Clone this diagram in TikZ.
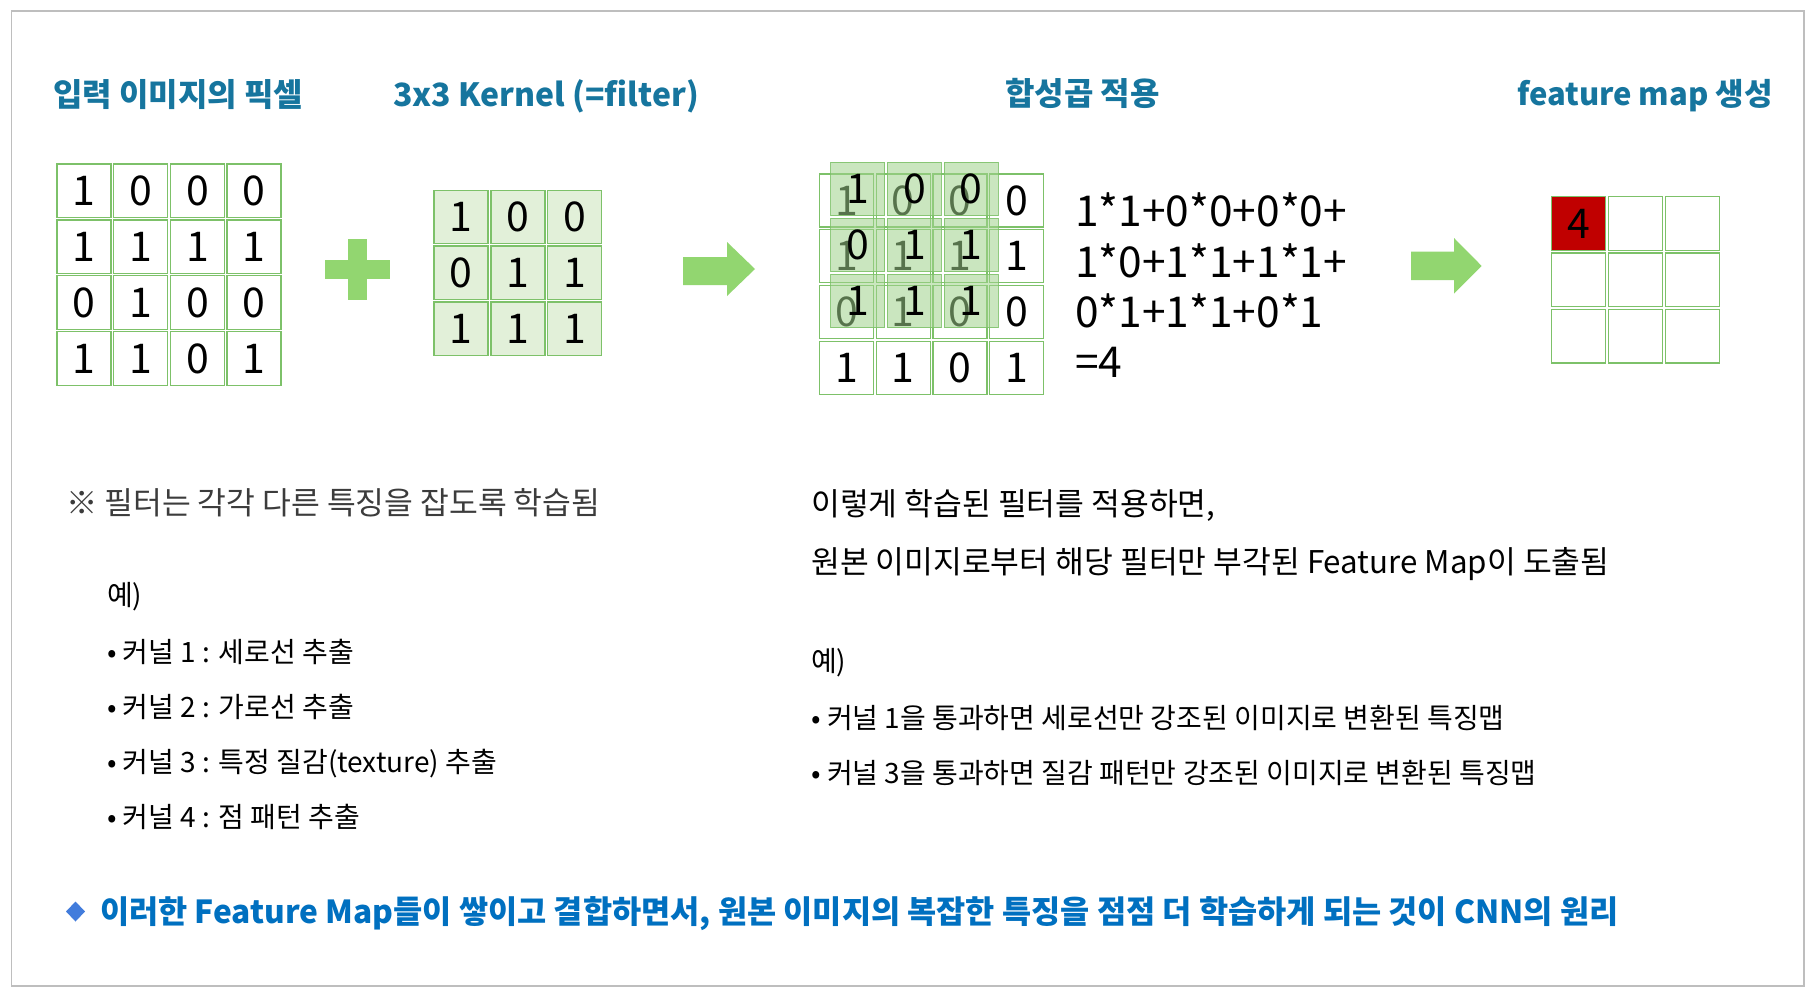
\documentclass[tikz,border=0pt]{standalone}
\usepackage{fontspec}
\setmainfont{Noto Sans CJK KR}
\definecolor{gborder}{RGB}{125,193,105}
\definecolor{kfill}{RGB}{226,240,217}
\definecolor{ovfill}{RGB}{160,210,140}
\definecolor{titleblue}{RGB}{22,117,158}
\definecolor{arrowgreen}{RGB}{146,214,112}
\definecolor{redcell}{RGB}{192,0,0}
\definecolor{framegray}{RGB}{190,190,190}
\definecolor{notegray}{RGB}{60,60,60}
\definecolor{bottomblue}{RGB}{0,112,192}
\definecolor{diamondblue}{RGB}{66,124,220}
\begin{document}
\begin{tikzpicture}[x=1pt,y=-1pt,
  cell/.style={draw=gborder, line width=1.3pt, minimum width=54pt, minimum height=53.5pt, inner sep=0pt, font=\fontsize{41}{41}\selectfont},
  kcell/.style={cell, fill=kfill},
  ovcell/.style={cell, fill=ovfill, fill opacity=0.55, draw opacity=0.85, text opacity=1},
  redc/.style={cell, fill=redcell},
  title/.style={anchor=base west, inner sep=0pt, text=titleblue, font=\fontsize{32}{32}\selectfont\bfseries},
  eqline/.style={anchor=base west, inner sep=0pt, font=\fontsize{42.5}{42.5}\selectfont},
  body/.style={anchor=base west, inner sep=0pt, font=\fontsize{31.3}{31.3}\selectfont},
  small/.style={anchor=base west, inner sep=0pt, font=\fontsize{28}{28}\selectfont},
  bottomtxt/.style={anchor=base west, inner sep=0pt, text=bottomblue, font=\fontsize{31.7}{31.7}\selectfont\bfseries},
  blockarrow/.style={fill=arrowgreen, draw=none}
]
\useasboundingbox (0,0) rectangle (1815,996);
\fill[white] (0,0) rectangle (1815,996);
\draw[framegray, line width=1.3pt] (11.5,11) rectangle (1804,986);

% titles
\node[title] (t1) at (53,106) {입력 이미지의 픽셀};
\node[title] (t2) at (393,106) {3x3 Kernel (=filter)};
\node[title] (t3) at (1005,105) {합성곱 적용};
\node[title, font=\fontsize{31}{31}\selectfont\bfseries] (t4) at (1517,105) {feature map 생성};

% input grid
\foreach \row [count=\r from 0] in {{1,0,0,0},{1,1,1,1},{0,1,0,0},{1,1,0,1}} {
  \foreach \v [count=\c from 0] in \row {
    \node[cell] (in-\r-\c) at ({84+56.7*\c},{190.75+55.9*\r}) {\v};
  }
}

% plus sign
\fill[arrowgreen] (325,259.7) rectangle (390,278.7);
\fill[arrowgreen] (347.6,239) rectangle (367.3,300);

% kernel
\foreach \row [count=\r from 0] in {{1,0,0},{0,1,1},{1,1,1}} {
  \foreach \v [count=\c from 0] in \row {
    \node[kcell] (k-\r-\c) at ({461+56.85*\c},{217+55.85*\r}) {\v};
  }
}

% arrow 1
\fill[blockarrow] (683,257) -- (727,257) -- (727,242) -- (755,269) -- (727,296) -- (727,285) -- (683,285) -- cycle;

% overlay base grid
\foreach \row [count=\r from 0] in {{1,0,0,0},{1,1,1,1},{0,1,0,0},{1,1,0,1}} {
  \foreach \v [count=\c from 0] in \row {
    \node[cell, minimum height=53pt] (ob-\r-\c) at ({846.4+56.8*\c},{200.5+55.8*\r}) {\v};
  }
}
% overlay kernel
\foreach \row [count=\r from 0] in {{1,0,0},{0,1,1},{1,1,1}} {
  \foreach \v [count=\c from 0] in \row {
    \node[ovcell] (ok-\r-\c) at ({857.6+56.85*\c},{189+56*\r}) {\v};
  }
}

% equation
\node[eqline] (eq1) at (1075,226) {1*1+0*0+0*0+};
\node[eqline] (eq2) at (1075,277) {1*0+1*1+1*1+};
\node[eqline] (eq3) at (1075,327) {0*1+1*1+0*1};
\node[eqline] (eq4) at (1075,377) {=4};

% arrow 2
\fill[blockarrow] (1411,251.7) -- (1454,251.7) -- (1454,238) -- (1481.7,266) -- (1454,293.7) -- (1454,280) -- (1411,280) -- cycle;

% feature map
\foreach \r in {0,1,2} {
  \foreach \c in {0,1,2} {
    \node[cell] (fm-\r-\c) at ({1578.8+56.8*\c},{223.5+56.3*\r}) {};
  }
}
\node[redc] (fm-red) at (1578.8,223.5) {4};

% left text
\node[body, text=notegray] (note) at (66,514) {※ 필터는 각각 다른 특징을 잡도록 학습됨};
\node[small] (ex1) at (107,605) {예)};
\node[small] (b1) at (107,662) {• 커널 1 : 세로선 추출};
\node[small] (b2) at (107,717) {• 커널 2 : 가로선 추출};
\node[small] (b3) at (107,772) {• 커널 3 : 특정 질감(texture) 추출};
\node[small] (b4) at (107,827) {• 커널 4 : 점 패턴 추출};

% right text
\node[body] (r1) at (811,515) {이렇게 학습된 필터를 적용하면,};
\node[body] (r2) at (811,573) {원본 이미지로부터 해당 필터만 부각된 Feature Map이 도출됨};
\node[small] (ex2) at (811,671) {예)};
\node[small] (rb1) at (811,728) {• 커널 1을 통과하면 세로선만 강조된 이미지로 변환된 특징맵};
\node[small] (rb2) at (811,783) {• 커널 3을 통과하면 질감 패턴만 강조된 이미지로 변환된 특징맵};

% bottom line
\fill[diamondblue] (66,911.5) -- (75.5,901.5) -- (85,911.5) -- (75.5,921.5) -- cycle;
\node[bottomtxt] (bottom) at (100,923) {이러한 Feature Map들이 쌓이고 결합하면서, 원본 이미지의 복잡한 특징을 점점 더 학습하게 되는 것이 CNN의 원리};
\end{tikzpicture}
\end{document}
